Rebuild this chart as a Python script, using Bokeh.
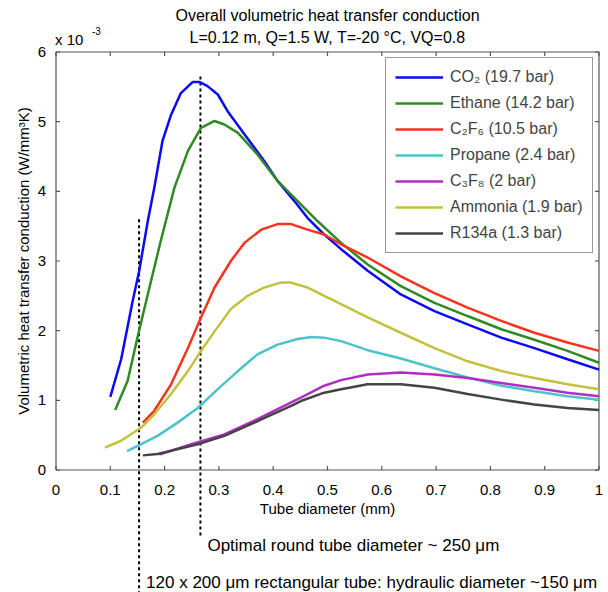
import math
from bokeh.plotting import figure
from bokeh.models import (Range1d, Label, Legend, LegendItem,
                          FixedTicker, ColumnDataSource)
from bokeh.embed import file_html
from bokeh.resources import INLINE

# ---------------- data (values in units of 1e-3 W/mm^3K) ----------------
co2_x = [0.10, 0.12, 0.141, 0.153, 0.169, 0.181, 0.196, 0.212, 0.230, 0.252, 0.264,
         0.279, 0.298, 0.316, 0.347, 0.384, 0.408, 0.439, 0.463, 0.494, 0.525, 0.574,
         0.635, 0.697, 0.758, 0.820, 0.881, 0.942, 1.0]
co2_y = [1.05, 1.59, 2.42, 2.85, 3.57, 4.05, 4.72, 5.10, 5.41, 5.57, 5.57,
         5.51, 5.39, 5.15, 4.82, 4.43, 4.15, 3.86, 3.62, 3.38, 3.17, 2.86,
         2.52, 2.28, 2.09, 1.90, 1.75, 1.59, 1.44]

ethane_x = [0.109, 0.132, 0.150, 0.169, 0.193, 0.218, 0.243, 0.267, 0.292, 0.310, 0.335,
            0.371, 0.408, 0.445, 0.482, 0.525, 0.574, 0.635, 0.697, 0.758, 0.820, 0.881,
            0.942, 1.0]
ethane_y = [0.86, 1.28, 1.90, 2.52, 3.29, 4.05, 4.58, 4.91, 5.01, 4.96, 4.84,
            4.53, 4.15, 3.86, 3.57, 3.26, 2.95, 2.64, 2.40, 2.21, 2.02, 1.87,
            1.71, 1.54]

c2f6_x = [0.160, 0.181, 0.212, 0.243, 0.267, 0.292, 0.322, 0.347, 0.378, 0.408, 0.433,
          0.463, 0.494, 0.525, 0.574, 0.635, 0.697, 0.758, 0.820, 0.881, 0.942, 1.0]
c2f6_y = [0.68, 0.85, 1.23, 1.75, 2.19, 2.62, 3.00, 3.26, 3.45, 3.53, 3.53,
          3.45, 3.38, 3.24, 3.05, 2.78, 2.54, 2.33, 2.14, 1.97, 1.83, 1.71]

propane_x = [0.131, 0.157, 0.187, 0.224, 0.261, 0.298, 0.335, 0.371, 0.408, 0.445, 0.470,
             0.494, 0.525, 0.574, 0.635, 0.697, 0.758, 0.820, 0.881, 0.942, 1.0]
propane_y = [0.27, 0.37, 0.49, 0.68, 0.89, 1.16, 1.42, 1.66, 1.80, 1.88, 1.91,
             1.90, 1.85, 1.72, 1.60, 1.46, 1.33, 1.21, 1.13, 1.06, 1.01]

c3f8_x = [0.190, 0.249, 0.310, 0.371, 0.433, 0.451, 0.494, 0.525, 0.574, 0.635, 0.697,
          0.758, 0.820, 0.881, 0.942, 1.0]
c3f8_y = [0.22, 0.37, 0.51, 0.73, 0.97, 1.04, 1.21, 1.29, 1.37, 1.40, 1.37,
          1.32, 1.25, 1.18, 1.11, 1.06]

ammonia_x = [0.090, 0.120, 0.157, 0.181, 0.212, 0.243, 0.267, 0.292, 0.322, 0.353, 0.384,
             0.414, 0.433, 0.463, 0.494, 0.525, 0.574, 0.635, 0.697, 0.758, 0.820, 0.881,
             0.942, 1.0]
ammonia_y = [0.32, 0.42, 0.61, 0.80, 1.09, 1.42, 1.71, 1.99, 2.31, 2.50, 2.62,
             2.69, 2.69, 2.62, 2.50, 2.38, 2.19, 1.97, 1.75, 1.56, 1.42, 1.32,
             1.23, 1.16]

r134a_x = [0.160, 0.187, 0.261, 0.310, 0.371, 0.433, 0.451, 0.494, 0.525, 0.574, 0.635,
           0.697, 0.758, 0.820, 0.881, 0.942, 1.0]
r134a_y = [0.21, 0.23, 0.37, 0.49, 0.70, 0.92, 0.99, 1.11, 1.16, 1.23, 1.23,
           1.18, 1.09, 1.01, 0.94, 0.89, 0.86]

series_names = ["CO₂ (19.7 bar)", "Ethane (14.2 bar)", "C₂F₆ (10.5 bar)",
                "Propane (2.4 bar)", "C₃F₈ (2 bar)", "Ammonia (1.9 bar)", "R134a (1.3 bar)"]
series_x = [co2_x, ethane_x, c2f6_x, propane_x, c3f8_x, ammonia_x, r134a_x]
series_y = [co2_y, ethane_y, c2f6_y, propane_y, c3f8_y, ammonia_y, r134a_y]
series_colors = ["#0a0af5", "#2f8a22", "#f5331f", "#4cc3c6", "#b12ec4", "#c4c13e", "#444444"]

x_ticks = [0.0, 0.1, 0.2, 0.3, 0.4, 0.5, 0.6, 0.7, 0.8, 0.9, 1.0]
x_tick_labels = ["0", "0.1", "0.2", "0.3", "0.4", "0.5", "0.6", "0.7", "0.8", "0.9", "1"]
y_ticks = [0.0, 1.0, 2.0, 3.0, 4.0, 5.0, 6.0]
y_tick_labels = ["0", "1", "2", "3", "4", "5", "6"]
x_lim = (0.0, 1.0)
y_lim = (0.0, 6.0)

title_lines = ["Overall volumetric heat transfer conduction",
               "L=0.12 m, Q=1.5 W, T=-20 °C, VQ=0.8"]
x_label = "Tube diameter (mm)"
y_label = "Volumetric heat transfer conduction (W/mm³K)"

# marker lines
marker_d = [0.266, 0.153]
marker_top = [5.65, 3.6]
marker_bottom = [-0.95, -1.77]
marker_text_y = [-1.09, -1.62]
marker_text = ["Optimal round tube diameter ~ 250 μm",
               "120 x 200 μm rectangular tube: hydraulic diameter ~150 μm"]

FONT = "Liberation Sans"
AXC = "#555555"
W, H = 608, 592
# pixel layout of the axes box inside the figure
PX_L, PX_R, PX_T, PX_B = 55.5, 598.5, 51.5, 469.5
sx = (PX_R - PX_L) / (x_lim[1] - x_lim[0])
sy = (PX_B - PX_T) / (y_lim[1] - y_lim[0])
XR = (x_lim[0] - PX_L / sx, x_lim[1] + (W - PX_R) / sx)
YR = (y_lim[0] - (H - PX_B) / sy, y_lim[1] + PX_T / sy)

p = figure(width=W, height=H, output_backend="svg", toolbar_location=None,
           x_range=Range1d(*XR), y_range=Range1d(*YR),
           title=None, min_border=0, min_border_left=0, min_border_right=0,
           min_border_top=0, min_border_bottom=0)
p.outline_line_color = None
p.xgrid.visible = False
p.ygrid.visible = False

# axes only carry the tick labels (placed at y = 0 and x = 0)
xa = p.xaxis[0]
xa.fixed_location = y_lim[0]
xa.ticker = FixedTicker(ticks=x_ticks)
xa.major_label_overrides = {t: l for t, l in zip(x_ticks, x_tick_labels)}
xa.major_label_standoff = 9

ya = p.yaxis[0]
ya.fixed_location = x_lim[0]
ya.ticker = FixedTicker(ticks=y_ticks)
ya.major_label_overrides = {t: l for t, l in zip(y_ticks, y_tick_labels)}
ya.major_label_standoff = 4

for ax in (xa, ya):
    ax.major_tick_line_color = None
    ax.minor_tick_line_color = None
    ax.axis_line_color = None
    ax.major_label_text_font = FONT
    ax.major_label_text_font_size = "15px"
    ax.major_label_text_color = "black"

# axes box: four sides as float segments from the axis limits
box_src = ColumnDataSource(dict(
    x0=[x_lim[0], x_lim[1], x_lim[1], x_lim[0]],
    y0=[y_lim[0], y_lim[0], y_lim[1], y_lim[1]],
    x1=[x_lim[1], x_lim[1], x_lim[0], x_lim[0]],
    y1=[y_lim[0], y_lim[1], y_lim[1], y_lim[0]],
))
p.segment(x0="x0", y0="y0", x1="x1", y1="y1", source=box_src,
          line_color=AXC, line_width=1.2)

# inward tick marks on all four sides (4 px long)
dx = 4.0 / sx
dy = 4.0 / sy
tk = dict(x0=[], y0=[], x1=[], y1=[])
for t in x_ticks:
    for yb, yt in ((y_lim[0], y_lim[0] + dy), (y_lim[1], y_lim[1] - dy)):
        tk["x0"].append(t); tk["x1"].append(t); tk["y0"].append(yb); tk["y1"].append(yt)
for t in y_ticks:
    for xb, xt in ((x_lim[0], x_lim[0] + dx), (x_lim[1], x_lim[1] - dx)):
        tk["x0"].append(xb); tk["x1"].append(xt); tk["y0"].append(t); tk["y1"].append(t)
p.segment(x0="x0", y0="y0", x1="x1", y1="y1", source=ColumnDataSource(tk),
          line_color=AXC, line_width=1.2)

mid_x = (x_lim[0] + x_lim[1]) / 2
mid_y = (y_lim[0] + y_lim[1]) / 2

# titles
p.add_layout(Label(x=mid_x, y=y_lim[1], y_offset=37, text=title_lines[0],
                   text_align="center", text_baseline="middle",
                   text_font=FONT, text_font_size="16px", text_color="black"))
p.add_layout(Label(x=mid_x, y=y_lim[1], y_offset=15, text=title_lines[1],
                   text_align="center", text_baseline="middle",
                   text_font=FONT, text_font_size="16px", text_color="black"))

# axis labels
p.add_layout(Label(x=mid_x, y=y_lim[0], y_offset=-38, text=x_label,
                   text_align="center", text_baseline="middle",
                   text_font=FONT, text_font_size="15px", text_color="black"))
p.add_layout(Label(x=x_lim[0], y=mid_y, x_offset=-33, text=y_label, angle=math.pi / 2,
                   text_align="center", text_baseline="middle",
                   text_font=FONT, text_font_size="15px", text_color="black"))

# scale factor label
p.add_layout(Label(x=x_lim[0], y=y_lim[1], x_offset=-1, y_offset=13, text="x 10",
                   text_baseline="middle", text_font=FONT, text_font_size="15px",
                   text_color="black"))
p.add_layout(Label(x=x_lim[0], y=y_lim[1], x_offset=36, y_offset=21, text="-3",
                   text_baseline="middle", text_font=FONT, text_font_size="10px",
                   text_color="black"))

# dashed marker lines
msrc = ColumnDataSource(dict(x=marker_d, y0=marker_top, y1=marker_bottom))
p.segment(x0="x", y0="y0", x1="x", y1="y1", source=msrc, line_color="black",
          line_width=2, line_dash="3 3")
for d, ty, txt in zip(marker_d, marker_text_y, marker_text):
    p.add_layout(Label(x=d, y=ty, x_offset=7, text=txt, text_baseline="middle",
                       text_font=FONT, text_font_size="17px", text_color="black"))

items = []
for name, xs, ys, col in zip(series_names, series_x, series_y, series_colors):
    r = p.line(xs, ys, line_color=col, line_width=2.5)
    items.append(LegendItem(label=name, renderers=[r]))

legend = Legend(items=items, location=(385, 339), padding=9,
                spacing=6, label_height=20, glyph_height=20, glyph_width=48,
                label_standoff=7, label_text_font=FONT, label_text_font_size="16px",
                border_line_color="#333333", border_line_width=1,
                background_fill_color="white", background_fill_alpha=1)
p.add_layout(legend)

open("out.html", "w").write(file_html(p, INLINE))
